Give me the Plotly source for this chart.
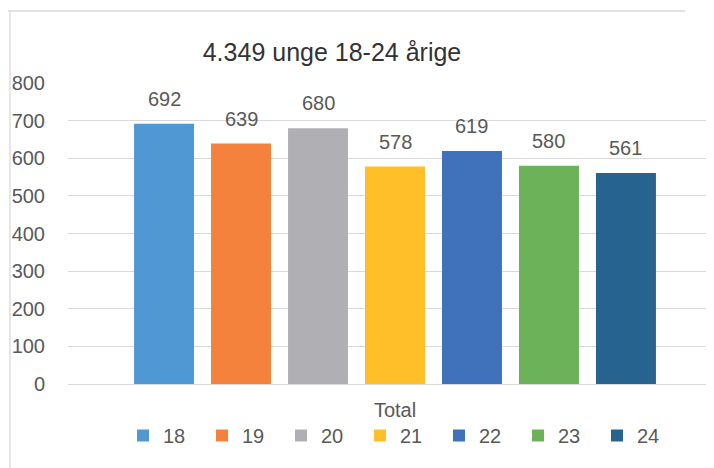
import plotly.graph_objects as go

# ---- data ----
categories = ["Total"]
ages = ["18", "19", "20", "21", "22", "23", "24"]
values = [692, 639, 680, 578, 619, 580, 561]
colors = ["#4F98D3", "#F4823C", "#B0B0B4", "#FFBF28", "#3F72BA", "#6BB259", "#26638F"]
y_ticks = [0, 100, 200, 300, 400, 500, 600, 700, 800]
title_text = "4.349 unge 18-24 årige"

# ---- layout constants (page has an 8px body margin) ----
OFF = 8
W, H = 714, 468
ML, MR, MT, MB = 68 - OFF, 0, 83 - OFF, H - (384 - OFF)
plot_w = W - ML - MR
plot_h = H - MT - MB
x_range = [-0.5, 0.5]
bargap = 0.176
bargroupgap = 0.221
FONT = "Liberation Sans, Arial, sans-serif"
GRAY = "#595959"

fig = go.Figure()
for age, v, c in zip(ages, values, colors):
    fig.add_trace(go.Bar(
        x=categories, y=[v], name=age,
        marker=dict(color=c, line=dict(width=0)),
        hoverinfo="skip",
    ))

# data labels as annotations, shifted per bar slot
px_per_unit = plot_w / (x_range[1] - x_range[0])
n = len(ages)
slot_px = px_per_unit * (1 - bargap) / n
for i, v in enumerate(values):
    fig.add_annotation(
        x=categories[0], y=v, xref="x", yref="y",
        text=str(v), showarrow=False,
        xshift=(i - (n - 1) / 2) * slot_px, yshift=12,
        yanchor="bottom",
        font=dict(family=FONT, size=20, color=GRAY),
    )

def px(x):
    return (x - OFF - ML) / plot_w

def py(y):
    return (H - MB - (y - OFF)) / plot_h

# chart border (partial, as in reference)
fig.add_shape(type="line", xref="paper", yref="paper",
              x0=px(8), x1=px(685), y0=py(11), y1=py(11),
              line=dict(color="#D9D9D9", width=1.3))
fig.add_shape(type="line", xref="paper", yref="paper",
              x0=px(10), x1=px(10), y0=py(11), y1=py(476),
              line=dict(color="#D9D9D9", width=1.3))

fig.update_layout(
    width=W, height=H,
    margin=dict(l=ML, r=MR, t=MT, b=MB),
    paper_bgcolor="white", plot_bgcolor="white",
    barmode="group", bargap=bargap, bargroupgap=bargroupgap,
    title=dict(text=title_text, x=(332 - OFF) / W, xanchor="center",
               y=1 - (52 - OFF) / H, yanchor="middle",
               font=dict(family=FONT, size=25, color="#333333")),
    font=dict(family=FONT, color=GRAY),
    showlegend=True,
    legend=dict(orientation="h", x=px(123), xanchor="left",
                y=py(416), yanchor="top",
                font=dict(family=FONT, size=20, color=GRAY),
                entrywidth=34, entrywidthmode="pixels",
                itemclick=False, itemdoubleclick=False,
                bgcolor="rgba(0,0,0,0)"),
    xaxis=dict(range=x_range, showgrid=False, showline=False, zeroline=False,
               ticks="", tickfont=dict(family=FONT, size=20, color=GRAY),
               ticklabelstandoff=12, fixedrange=True),
    yaxis=dict(range=[0, 800], tickvals=y_ticks, showgrid=True,
               gridcolor="#D9D9D9", gridwidth=1.3, zeroline=True,
               zerolinecolor="#D9D9D9", zerolinewidth=1.3, showline=False,
               ticks="", tickfont=dict(family=FONT, size=20, color=GRAY),
               ticklabelstandoff=22, fixedrange=True),
)

fig.write_html("out.html", config={"displayModeBar": False})
